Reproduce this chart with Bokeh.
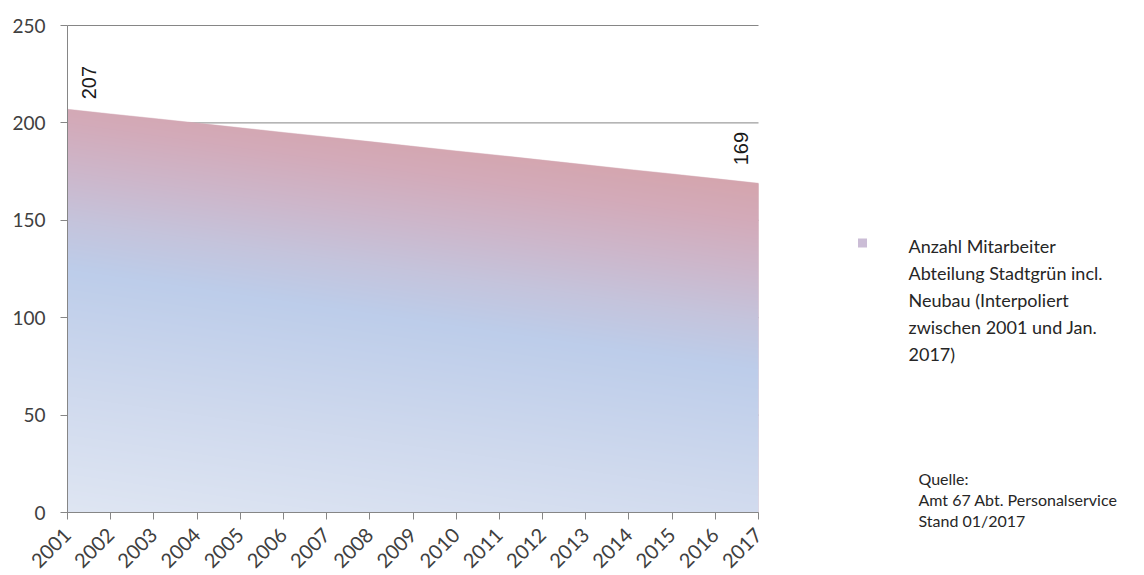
import numpy as np
from math import pi
from bokeh.plotting import figure
from bokeh.models import Label, Range1d, FixedTicker
from bokeh.embed import file_html
from bokeh.resources import INLINE

# ---- data ----
years = list(range(2001, 2018))
staff = [207, 204.6, 202.3, 199.9, 197.5, 195.1, 192.8, 190.4, 188.0,
         185.6, 183.3, 180.9, 178.5, 176.1, 173.8, 171.4, 169]
y_ticks = [0, 50, 100, 150, 200, 250]
labelled_points = [0, 16]
legend_lines = ["Anzahl Mitarbeiter", "Abteilung Stadtgrün incl.",
                "Neubau (Interpoliert", "zwischen 2001 und Jan.", "2017)"]
source_lines = ["Quelle:", "Amt 67  Abt. Personalservice", "Stand 01/2017"]

# ---- layout constants (pixel geometry of the plot area) ----
W, H = 1144, 575
PX_LEFT, PX_RIGHT = 67, 758      # pixel x of first / last year
PX_ZERO, PX_TOP = 512, 25        # pixel y of 0 and of 250
Y_MAX = 250
px_per_year = (PX_RIGHT - PX_LEFT) / (years[-1] - years[0])
px_per_unit = (PX_ZERO - PX_TOP) / Y_MAX
AXIS_GRAY = "#868686"
TXT = "#404040"


def data_x(px):
    return years[0] + (px - PX_LEFT) / px_per_year


def data_y(py):
    return (PX_ZERO - py) / px_per_unit


p = figure(width=W, height=H, output_backend="svg", toolbar_location=None,
           x_range=Range1d(data_x(0), data_x(W)), y_range=Range1d(data_y(H), data_y(0)),
           min_border=0)
p.outline_line_color = None
p.background_fill_color = "white"
p.border_fill_color = "white"
p.xgrid.visible = False
p.ygrid.visible = False

# horizontal grid lines over the year span only
p.segment(x0=[years[0]] * len(y_ticks), x1=[years[-1]] * len(y_ticks),
          y0=y_ticks, y1=y_ticks, line_color=AXIS_GRAY, line_width=1, level="underlay")

# axes, pinned to the data origin
for ax in (p.xaxis[0], p.yaxis[0]):
    ax.axis_line_color = AXIS_GRAY
    ax.major_tick_line_color = AXIS_GRAY
    ax.major_tick_out = 7
    ax.major_tick_in = 0
    ax.minor_tick_line_color = None
    ax.major_label_text_font = "Lato"
    ax.major_label_text_color = TXT
p.yaxis[0].fixed_location = years[0]
p.yaxis[0].ticker = FixedTicker(ticks=y_ticks)
p.yaxis[0].bounds = (0, Y_MAX)
p.yaxis[0].major_label_standoff = 15
p.yaxis[0].major_label_text_font_size = "19px"
p.xaxis[0].fixed_location = 0
p.xaxis[0].ticker = FixedTicker(ticks=years)
p.xaxis[0].bounds = (years[0], years[-1])
p.xaxis[0].major_label_orientation = pi / 4
p.xaxis[0].major_label_standoff = 12
p.xaxis[0].major_label_text_font_size = "20px"

# ---- gradient-filled area ----
p.varea(x=years, y1=0, y2=staff, fill_color="#d3a9b6", fill_alpha=1)

K = 3.2  # tilt of the colour gradient (units per year)
stop_s = [0, 60, 125, 150, 175, 200, 225]
stop_rgb = [(223, 230, 243), (208, 218, 238), (189, 205, 234), (197, 196, 220),
            (205, 183, 203), (211, 171, 186), (213, 164, 171)]
x0, x1 = years[0], years[-1]
nx = PX_RIGHT - PX_LEFT
ny = PX_ZERO - PX_TOP
xs = x0 + (np.arange(nx) + 0.5) * (x1 - x0) / nx
ys = (np.arange(ny) + 0.5) * Y_MAX / ny
X, Y = np.meshgrid(xs, ys)
top = np.interp(xs, years, staff)
S = Y + K * (X - x0)
img = np.empty((ny, nx), dtype=np.uint32)
view = img.view(dtype=np.uint8).reshape((ny, nx, 4))
for c in range(3):
    view[..., c] = np.interp(S, stop_s, [rgb[c] for rgb in stop_rgb]).astype(np.uint8)
alpha = np.clip((top[None, :] - Y) / (Y_MAX / ny) + 0.5, 0, 1)
view[..., 3] = (alpha * 255).astype(np.uint8)
p.image_rgba(image=[img], x=x0, y=0, dw=x1 - x0, dh=Y_MAX)

# ---- data labels ----
offsets = {0: (21, 10), 16: (-18, 18)}
for i in labelled_points:
    dx, dy = offsets[i]
    p.add_layout(Label(x=years[i], y=staff[i], text=f"{staff[i]:.0f}", angle=pi / 2,
                       x_offset=dx, y_offset=dy, text_align="left", text_baseline="middle",
                       text_font="Liberation Sans", text_font_size="20px", text_color="#1a1a1a"))

# ---- legend and source note ----
p.scatter(x=[data_x(862)], y=[data_y(242.5)], marker="square", size=9,
          fill_color="#cbbdd6", line_color=None)
for j, t in enumerate(legend_lines):
    p.add_layout(Label(x=data_x(908), y=data_y(245 + 27 * j), text=t,
                       text_align="left", text_baseline="middle",
                       text_font="Lato", text_font_size="18px", text_color="#262626"))
for j, t in enumerate(source_lines):
    p.add_layout(Label(x=data_x(918), y=data_y(478 + 21 * j), text=t,
                       text_align="left", text_baseline="middle",
                       text_font="Lato", text_font_size="16px", text_color="#262626"))

open("out.html", "w").write(file_html(p, INLINE))
